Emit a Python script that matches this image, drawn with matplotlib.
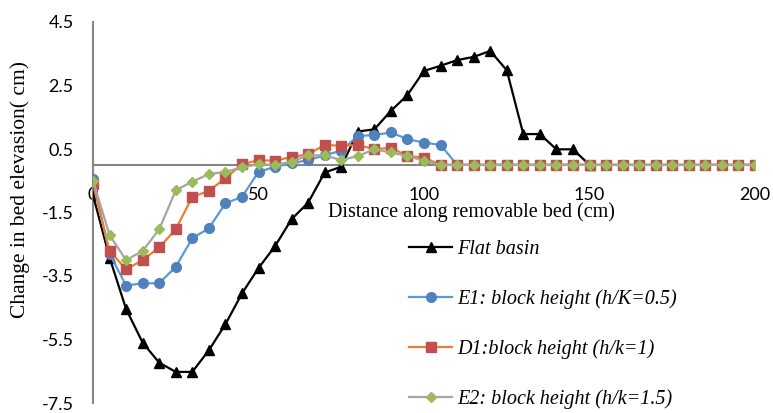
import matplotlib
matplotlib.use("Agg")
import matplotlib.pyplot as plt
import numpy as np

distance = list(range(0, 205, 5))

flat_x = list(range(0, 155, 5))
flat_basin = [-0.95, -2.92, -4.54, -5.6, -6.23, -6.52, -6.52, -5.84, -5.02, -4.05,
              -3.25, -2.56, -1.71, -1.19, -0.24, -0.06, 1.05, 1.12, 1.7, 2.2,
              2.96, 3.12, 3.3, 3.4, 3.59, 2.98, 0.97, 0.97, 0.49, 0.49, 0.0]

e1 = [-0.45, -2.8, -3.8, -3.73, -3.73, -3.21, -2.31, -2.0, -1.21, -1.01,
      -0.22, -0.06, 0.05, 0.15, 0.3, 0.45, 0.91, 0.94, 1.02, 0.81,
      0.7, 0.63] + [0.0] * 19

d1 = [-0.6, -2.71, -3.29, -3.0, -2.6, -2.03, -1.01, -0.82, -0.42, 0.02,
      0.15, 0.13, 0.25, 0.33, 0.63, 0.6, 0.63, 0.49, 0.54, 0.28,
      0.23] + [0.0] * 20

e2 = [-0.5, -2.21, -3.0, -2.71, -2.03, -0.8, -0.53, -0.29, -0.22, -0.08,
      0.02, 0.0, 0.1, 0.3, 0.3, 0.15, 0.28, 0.49, 0.39, 0.28,
      0.13] + [0.0] * 20

labels = ["Flat basin", "E1: block height (h/K=0.5)",
          "D1:block height (h/k=1)", "E2: block height (h/k=1.5)"]

yticks = [4.5, 2.5, 0.5, -1.5, -3.5, -5.5, -7.5]
xticks = [0, 50, 100, 150, 200]

W, H = 773, 413
fig = plt.figure(figsize=(W / 100, H / 100), dpi=100)
ax = fig.add_axes([93 / W, 1 - 403 / H, (755 - 93) / W, (403 - 22) / H])

lw = 1.6
ax.plot(flat_x, flat_basin, color="black", lw=lw, marker="^", ms=7,
        mfc="black", mec="black", label=labels[0], zorder=3)
ax.plot(distance, e1, color="#5B9BD5", lw=lw, marker="o", ms=7,
        mfc="#4F81BD", mec="#4F81BD", label=labels[1], zorder=4)
ax.plot(distance, d1, color="#ED7D31", lw=lw, marker="s", ms=6.5,
        mfc="#C0504D", mec="#C0504D", label=labels[2], zorder=5)
ax.plot(distance, e2, color="#A5A5A5", lw=lw, marker="D", ms=5.5,
        mfc="#9BBB59", mec="#9BBB59", label=labels[3], zorder=6)

ax.set_xlim(0, 200)
ax.set_ylim(-7.5, 4.5)
ax.set_yticks(yticks)
ax.set_yticklabels([f"{v}" for v in yticks])
ax.set_xticks(xticks)

gray = "#868686"
for s in ["top", "right"]:
    ax.spines[s].set_visible(False)
ax.spines["left"].set_color(gray)
ax.spines["left"].set_linewidth(1.5)
ax.spines["bottom"].set_position(("data", 0))
ax.spines["bottom"].set_color(gray)
ax.spines["bottom"].set_linewidth(1.5)
ax.spines["bottom"].set_zorder(2)

ax.tick_params(axis="both", length=0)
ax.tick_params(axis="y", pad=14)
ax.tick_params(axis="x", pad=16)
for t in ax.get_xticklabels() + ax.get_yticklabels():
    t.set_fontfamily(["Lato", "DejaVu Sans"])
    t.set_fontsize(13)

serif = ["Liberation Serif", "DejaVu Serif"]
fig.text(20 / W, 1 - 190 / H, "Change in bed elevasion( cm)", rotation=90,
         ha="center", va="center", fontsize=15.5, family=serif)
fig.text(471 / W, 1 - 212 / H, "Distance along removable bed (cm)",
         ha="center", va="center", fontsize=14.5, family=serif)

leg = ax.legend(loc="upper left", bbox_to_anchor=(409 / W, 1 - 240 / H),
                bbox_transform=fig.transFigure, frameon=False,
                prop=dict(family=serif, style="italic", size=14.5),
                handlelength=2.15, labelspacing=1.5, handletextpad=0.25,
                borderpad=0, borderaxespad=0)

fig.savefig("out.png", dpi=100)
